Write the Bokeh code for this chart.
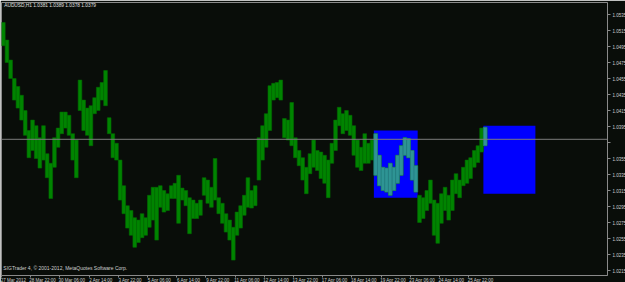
from bokeh.plotting import figure
from bokeh.models import Range1d, FixedTicker, Span, Label, ColumnDataSource
from bokeh.embed import file_html
from bokeh.resources import INLINE
import numpy as np

# ---- data (H1 AUDUSD; grouped in 4-hour blocks) ----
block_hours = 4
bar_high = [1.0525, 1.0503, 1.0478, 1.0455, 1.0445, 1.0434, 1.0415, 1.0390, 1.0403, 1.0396,
            1.0381, 1.0396, 1.0361, 1.0349, 1.0381, 1.0393, 1.0413, 1.0413, 1.0409, 1.0386,
            1.0378, 1.0453, 1.0428, 1.0418, 1.0421, 1.0431, 1.0444, 1.0450, 1.0465, 1.0406,
            1.0386, 1.0374, 1.0353, 1.0321, 1.0296, 1.0290, 1.0281, 1.0278, 1.0286, 1.0281,
            1.0309, 1.0319, 1.0319, 1.0321, 1.0315, 1.0311, 1.0321, 1.0324, 1.0334, 1.0318,
            1.0315, 1.0306, 1.0303, 1.0299, 1.0303, 1.0331, 1.0328, 1.0319, 1.0355, 1.0306,
            1.0299, 1.0286, 1.0278, 1.0269, 1.0288, 1.0296, 1.0309, 1.0331, 1.0315, 1.0321,
            1.0381, 1.0396, 1.0411, 1.0446, 1.0449, 1.0450, 1.0453, 1.0405, 1.0403, 1.0425,
            1.0381, 1.0365, 1.0356, 1.0344, 1.0361, 1.0378, 1.0365, 1.0363, 1.0359, 1.0353,
            1.0374, 1.0403, 1.0419, 1.0411, 1.0415, 1.0409, 1.0396, 1.0378, 1.0369, 1.0386,
            1.0374, 1.0378, 1.0386, 1.0359, 1.0344, 1.0343, 1.0349, 1.0344, 1.0359, 1.0371,
            1.0381, 1.0380, 1.0365, 1.0346, 1.0309, 1.0306, 1.0315, 1.0328, 1.0303, 1.0299,
            1.0311, 1.0319, 1.0309, 1.0328, 1.0336, 1.0328, 1.0344, 1.0353, 1.0356, 1.0365,
            1.0371, 1.0393, 1.0394]
bar_low = [1.0496, 1.0475, 1.0455, 1.0428, 1.0418, 1.0403, 1.0384, 1.0356, 1.0365, 1.0355,
           1.0343, 1.0353, 1.0331, 1.0305, 1.0344, 1.0369, 1.0386, 1.0393, 1.0384, 1.0353,
           1.0331, 1.0415, 1.0390, 1.0384, 1.0371, 1.0411, 1.0415, 1.0428, 1.0421, 1.0386,
           1.0356, 1.0353, 1.0303, 1.0286, 1.0268, 1.0259, 1.0244, 1.0250, 1.0256, 1.0259,
           1.0269, 1.0278, 1.0253, 1.0294, 1.0288, 1.0290, 1.0305, 1.0305, 1.0274, 1.0303,
           1.0296, 1.0261, 1.0280, 1.0280, 1.0284, 1.0309, 1.0299, 1.0294, 1.0303, 1.0286,
           1.0274, 1.0263, 1.0253, 1.0228, 1.0259, 1.0268, 1.0284, 1.0294, 1.0293, 1.0296,
           1.0328, 1.0353, 1.0369, 1.0390, 1.0428, 1.0431, 1.0428, 1.0381, 1.0378, 1.0371,
           1.0356, 1.0346, 1.0328, 1.0311, 1.0336, 1.0344, 1.0340, 1.0330, 1.0324, 1.0306,
           1.0349, 1.0365, 1.0396, 1.0386, 1.0390, 1.0384, 1.0359, 1.0344, 1.0340, 1.0349,
           1.0349, 1.0353, 1.0334, 1.0321, 1.0315, 1.0313, 1.0309, 1.0315, 1.0324, 1.0334,
           1.0359, 1.0356, 1.0328, 1.0313, 1.0275, 1.0280, 1.0290, 1.0299, 1.0259, 1.0249,
           1.0274, 1.0290, 1.0278, 1.0290, 1.0311, 1.0306, 1.0321, 1.0324, 1.0330, 1.0344,
           1.0350, 1.0363, 1.0371]

# rectangles (hour index from chart start, price)
rect_start = [408, 528]
rect_end = [456, 585]
rect_top = [1.0390, 1.0396]
rect_bottom = [1.0306, 1.0311]

price_ticks = [1.0215, 1.0235, 1.0255, 1.0275, 1.0295, 1.0315, 1.0335, 1.0355, 1.0375,
               1.0395, 1.0415, 1.0435, 1.0455, 1.0475, 1.0495, 1.0515, 1.0535]
time_ticks = [0, 32, 64, 96, 128, 160, 192, 224, 256, 288, 320, 352, 384, 416, 448, 480, 512]
time_labels = ["27 Mar 2012", "28 Mar 22:00", "30 Mar 06:00", "2 Apr 14:00", "3 Apr 22:00",
               "5 Apr 06:00", "6 Apr 14:00", "9 Apr 22:00", "11 Apr 06:00", "12 Apr 14:00",
               "13 Apr 22:00", "17 Apr 06:00", "18 Apr 14:00", "19 Apr 22:00", "23 Apr 06:00",
               "24 Apr 14:00", "25 Apr 22:00"]
last_price = 1.0379
header = "AUDUSD,H1  1.0381 1.0389 1.0378 1.0379"
footer = "SIGTrader 4, \u00a9 2001-2012, MetaQuotes Software Corp."

BG = "#090d09"
GRID = "#8a8a8a"
TXT = "#cfcfcf"
FONT = "Liberation Sans"

p = figure(frame_width=606, frame_height=273, output_backend="svg", toolbar_location=None,
           x_range=Range1d(0, 664), y_range=Range1d(1.020875, 1.0550),
           x_axis_location="below", y_axis_location="right",
           min_border_left=1, min_border_right=18, min_border_top=2, min_border_bottom=7)
p.background_fill_color = BG
p.border_fill_color = BG
p.outline_line_color = GRID
p.outline_line_width = 1
p.grid.visible = False

# rectangles
p.quad(left=rect_start, right=rect_end, top=rect_top, bottom=rect_bottom,
       fill_color="#0000ff", line_color=None)

# bars
n = len(bar_high)
x0 = np.arange(n) * block_hours
x1 = x0 + block_hours
src = ColumnDataSource(dict(left=x0, right=x1, top=bar_high, bottom=bar_low))
p.quad(left="left", right="right", top="top", bottom="bottom", source=src,
       fill_color="#008400", line_color="#006c00", line_width=0.6)

# parts of bars that lie over rectangles
cl, cr, ct, cb = [], [], [], []
for rs, re_, rt, rb in zip(rect_start, rect_end, rect_top, rect_bottom):
    for a, b, hi, lo in zip(x0, x1, bar_high, bar_low):
        l, r = max(a, rs), min(b, re_)
        t, bt = min(hi, rt), max(lo, rb)
        if r > l and t > bt:
            cl.append(l); cr.append(r); ct.append(t); cb.append(bt)
p.quad(left=cl, right=cr, top=ct, bottom=cb, fill_color="#2e9494",
       line_color="#237a84", line_width=0.6)

# current price line
p.add_layout(Span(location=last_price, dimension="width", line_color="#7c7c7c", line_width=1))

# axes
ya = p.yaxis[0]
ya.ticker = FixedTicker(ticks=price_ticks)
ya.major_label_overrides = {t: ("" if abs(t - 1.0375) < 1e-9 else f"{t:.4f}") for t in price_ticks}
ya.major_label_text_font_size = "4.5px"
ya.major_label_text_color = TXT
ya.major_label_text_font = FONT
ya.major_tick_out = 3
ya.major_tick_in = 0
ya.major_tick_line_color = GRID
ya.minor_tick_line_color = None
ya.axis_line_color = None
ya.major_label_standoff = 2

xa = p.xaxis[0]
label_shift = 13
xa.ticker = FixedTicker(ticks=[t + label_shift for t in time_ticks], minor_ticks=time_ticks)
xa.major_label_overrides = {t + label_shift: s for t, s in zip(time_ticks, time_labels)}
xa.major_label_text_font_size = "4.5px"
xa.major_label_text_color = TXT
xa.major_label_text_font = FONT
xa.major_tick_line_color = None
xa.major_tick_out = 2
xa.major_tick_in = 0
xa.minor_tick_line_color = GRID
xa.minor_tick_out = 2
xa.minor_tick_in = 0
xa.axis_line_color = None
xa.major_label_standoff = 0

# texts
p.add_layout(Label(x=3, y=1.0549, text=header, text_font=FONT, text_font_size="4.8px",
                   text_color="#e0e0e0", text_baseline="top", text_align="left"))
p.add_layout(Label(x=2, y=1.02138, text=footer, text_font=FONT, text_font_size="5px",
                   text_color=TXT, text_baseline="bottom", text_align="left"))
p.add_layout(Label(x=666, y=last_price, text=f"{last_price:.4f}", text_font=FONT,
                   text_font_size="4.5px", text_color="#000000", text_baseline="middle",
                   text_align="left", background_fill_color="#ffffff"))

open("out.html", "w").write(file_html(p, INLINE))
